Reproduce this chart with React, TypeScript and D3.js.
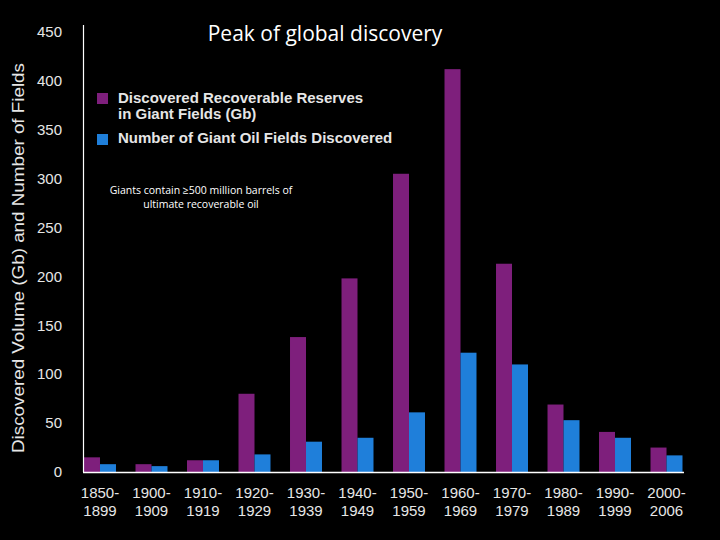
import { useEffect, useRef } from "react";
import * as d3 from "d3";

const W = 720;
const H = 540;
const X0 = 84;
const Y0 = 472;

const categories = ["1850-1899", "1900-1909", "1910-1919", "1920-1929", "1930-1939", "1940-1949", "1950-1959", "1960-1969", "1970-1979", "1980-1989", "1990-1999", "2000-2006"];
const reserves = [15, 8, 12, 80, 138, 198, 305, 412, 213, 69, 41, 25];
const fields = [8, 6, 12, 18, 31, 35, 61, 122, 110, 53, 35, 17];
const yTicks = [0, 50, 100, 150, 200, 250, 300, 350, 400, 450];

const PURPLE = "#7e1f7c";
const BLUE = "#1f7fda";
const TEXT = "#e6e6e6";

export default function App() {
    const axesRef = useRef<SVGGElement | null>(null);

    const x = d3.scaleBand().domain(categories).range([X0, 682.5]).paddingInner(0.379).paddingOuter(0);
    const inner = d3.scaleBand().domain(["r", "f"]).range([0, x.bandwidth()]);
    const y = d3.scaleLinear().domain([0, 450]).range([Y0, 32]);

    useEffect(() => {
        const g = d3.select(axesRef.current);
        g.selectAll("*").remove();

        // y tick labels only, no tick marks
        g.selectAll("text.yt")
            .data(yTicks)
            .join("text")
            .attr("class", "yt")
            .attr("x", 62)
            .attr("y", (d) => y(d))
            .attr("dy", "0.35em")
            .attr("text-anchor", "end")
            .attr("font-size", 15)
            .attr("fill", TEXT)
            .text((d) => d);

        // category labels on two lines
        const lab = g.selectAll("text.xl")
            .data(categories)
            .join("text")
            .attr("class", "xl")
            .attr("text-anchor", "middle")
            .attr("font-size", 15)
            .attr("fill", TEXT);
        lab.append("tspan")
            .attr("x", (d) => (x(d) ?? 0) + x.bandwidth() / 2)
            .attr("y", 498)
            .text((d) => d.split("-")[0] + "-");
        lab.append("tspan")
            .attr("x", (d) => (x(d) ?? 0) + x.bandwidth() / 2)
            .attr("y", 516)
            .text((d) => d.split("-")[1]);
    }, []);

    return (
        <svg width={W} height={H} style={{ position: "absolute", left: 0, top: 0, background: "#000" }} fontFamily="'Liberation Sans', Arial, sans-serif">
            <rect width={W} height={H} fill="#000" />
            <text x={325} y={41} textAnchor="middle" fontSize={21} fill="#fff" fontFamily="'Open Sans', sans-serif">Peak of global discovery</text>

            {categories.map((c, i) => (
                <g key={c} transform={`translate(${x(c)},0)`}>
                    <rect x={inner("r")} y={y(reserves[i])} width={inner.bandwidth()} height={Y0 - y(reserves[i])} fill={PURPLE} />
                    <rect x={inner("f")} y={y(fields[i])} width={inner.bandwidth()} height={Y0 - y(fields[i])} fill={BLUE} />
                </g>
            ))}

            <line x1={83.5} x2={83.5} y1={25} y2={Y0} stroke="#fff" strokeWidth={1.2} />
            <line x1={83} x2={684} y1={Y0 + 0.5} y2={Y0 + 0.5} stroke="#fff" strokeWidth={1.5} />

            <g ref={axesRef} />

            <text transform="translate(23.5,258) rotate(-90)" textAnchor="middle" fontSize={17} textLength={390} lengthAdjust="spacingAndGlyphs" fill={TEXT}>
                Discovered Volume (Gb) and Number of Fields
            </text>

            <rect x={97} y={93} width={11} height={11} fill={PURPLE} />
            <text x={118} y={103} fontSize={15} fontWeight="bold" fill={TEXT}>Discovered Recoverable Reserves</text>
            <text x={118} y={119} fontSize={15} fontWeight="bold" fill={TEXT}>in Giant Fields (Gb)</text>
            <rect x={97} y={134} width={11} height={11} fill={BLUE} />
            <text x={118} y={143} fontSize={15} fontWeight="bold" fill={TEXT}>Number of Giant Oil Fields Discovered</text>

            <text x={201} y={194} textAnchor="middle" fontSize={10.5} fill="#fff" fontFamily="'Open Sans', sans-serif">Giants contain ≥500 million barrels of</text>
            <text x={201} y={208} textAnchor="middle" fontSize={10.5} fill="#fff" fontFamily="'Open Sans', sans-serif">ultimate recoverable oil</text>
        </svg>
    );
}
